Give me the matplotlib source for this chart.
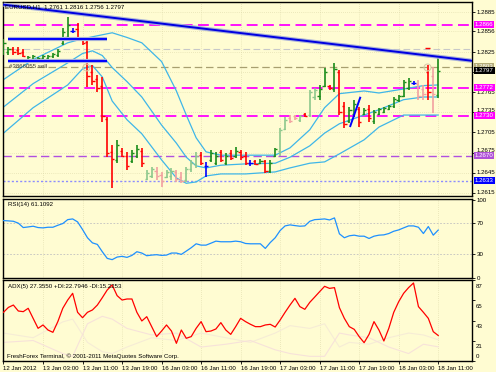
import matplotlib
matplotlib.use("Agg")
import matplotlib.pyplot as plt
import matplotlib.transforms as mtransforms

plt.rcParams['font.family'] = ['Liberation Sans', 'DejaVu Sans']

# ---------------- data ----------------
bar_idx = list(range(89))
opens = [1.2825, 1.2826, 1.2830, 1.2828, 1.2825, 1.2813, 1.2815, 1.2815, 1.2816, 1.2816,
         1.2819, 1.2821, 1.2838, 1.2848, 1.2857, 1.2860, 1.2845, 1.2840, 1.2795, 1.2785,
         1.2775, 1.2725, 1.2676, 1.2664, 1.2678, 1.2670, 1.2662, 1.2670, 1.2678, 1.2636,
         1.2640, 1.2648, 1.2642, 1.2638, 1.2640, 1.2646, 1.2638, 1.2634, 1.2650, 1.2658,
         1.2672, 1.2655, 1.2664, 1.2660, 1.2676, 1.2660, 1.2675, 1.2670, 1.2676, 1.2670,
         1.2660, 1.2662, 1.2659, 1.2662, 1.2648, 1.2670, 1.2678, 1.2710, 1.2726, 1.2729,
         1.2724, 1.2732, 1.2731, 1.2758, 1.2760, 1.2775, 1.2775, 1.2770, 1.2795, 1.2745,
         1.2722, 1.2732, 1.2740, 1.2733, 1.2740, 1.2722, 1.2733, 1.2736, 1.2740, 1.2744,
         1.2753, 1.2760, 1.2772, 1.2779, 1.2778, 1.2770, 1.2796, 1.2790, 1.2761]
highs = [1.2845, 1.2833, 1.2833, 1.2832, 1.2829, 1.2820, 1.2821, 1.2818, 1.2821, 1.2821,
         1.2824, 1.2829, 1.2861, 1.2878, 1.2861, 1.2869, 1.2847, 1.2844, 1.2806, 1.2791,
         1.2788, 1.2728, 1.2686, 1.2694, 1.2682, 1.2676, 1.2679, 1.2686, 1.2682, 1.2649,
         1.2653, 1.2653, 1.2646, 1.2649, 1.2652, 1.2649, 1.2646, 1.2653, 1.2664, 1.2676,
         1.2676, 1.2661, 1.2679, 1.2676, 1.2679, 1.2674, 1.2679, 1.2683, 1.2679, 1.2676,
         1.2664, 1.2664, 1.2665, 1.2664, 1.2664, 1.2682, 1.2712, 1.2728, 1.2731, 1.2731,
         1.2731, 1.2734, 1.2769, 1.2772, 1.2776, 1.2802, 1.2776, 1.2809, 1.2799, 1.2751,
         1.2743, 1.2754, 1.2743, 1.2742, 1.2746, 1.2739, 1.2742, 1.2743, 1.2746, 1.2758,
         1.2761, 1.2784, 1.2787, 1.2782, 1.2784, 1.2776, 1.2806, 1.2803, 1.2816]
lows = [1.2821, 1.2821, 1.2821, 1.2821, 1.2818, 1.2811, 1.2812, 1.2814, 1.2814, 1.2814,
        1.2817, 1.2818, 1.2835, 1.2841, 1.2854, 1.2841, 1.2836, 1.2773, 1.2776, 1.2766,
        1.2721, 1.2668, 1.2622, 1.2659, 1.2668, 1.2649, 1.2659, 1.2667, 1.2653, 1.2634,
        1.2637, 1.2634, 1.2624, 1.2637, 1.2634, 1.2631, 1.2630, 1.2631, 1.2646, 1.2652,
        1.2656, 1.2638, 1.2661, 1.2656, 1.2661, 1.2656, 1.2664, 1.2667, 1.2664, 1.2656,
        1.2655, 1.2656, 1.2658, 1.2644, 1.2644, 1.2668, 1.2670, 1.2709, 1.2719, 1.2724,
        1.2721, 1.2728, 1.2728, 1.2754, 1.2754, 1.2773, 1.2769, 1.2766, 1.2731, 1.2712,
        1.2719, 1.2728, 1.2713, 1.2731, 1.2721, 1.2718, 1.2731, 1.2734, 1.2739, 1.2742,
        1.2751, 1.2758, 1.2769, 1.2776, 1.2754, 1.2754, 1.2754, 1.2734, 1.2756]
closes = [1.2838, 1.2830, 1.2825, 1.2824, 1.2820, 1.2818, 1.2819, 1.2817, 1.2819, 1.2820,
          1.2822, 1.2827, 1.2855, 1.2866, 1.2857, 1.2845, 1.2839, 1.2790, 1.2782, 1.2772,
          1.2730, 1.2675, 1.2666, 1.2686, 1.2670, 1.2655, 1.2674, 1.2680, 1.2660, 1.2645,
          1.2650, 1.2640, 1.2632, 1.2646, 1.2648, 1.2636, 1.2633, 1.2650, 1.2660, 1.2670,
          1.2660, 1.2655, 1.2674, 1.2670, 1.2664, 1.2670, 1.2667, 1.2678, 1.2668, 1.2660,
          1.2660, 1.2658, 1.2663, 1.2648, 1.2660, 1.2680, 1.2708, 1.2724, 1.2722, 1.2726,
          1.2729, 1.2730, 1.2765, 1.2768, 1.2770, 1.2795, 1.2771, 1.2800, 1.2735, 1.2718,
          1.2738, 1.2748, 1.2720, 1.2739, 1.2726, 1.2735, 1.2740, 1.2741, 1.2744, 1.2755,
          1.2759, 1.2780, 1.2782, 1.2779, 1.2760, 1.2762, 1.2765, 1.2762, 1.2797]
bar_style = ['g', 'g', 'r', 'r', 'r', 'g', 'g', 'g', 'g', 'g',
             'g', 'g', 'g', 'g', 'b', 'r', 'r', 'r', 'r', 'r',
             'r', 'r', 'r', 'g', 'r', 'r', 'g', 'g', 'r', 'lg',
             'lg', 'lr', 'lr', 'lg', 'lg', 'lr', 'lr', 'lg', 'lg', 'lg',
             'r', 'b', 'g', 'g', 'r', 'g', 'r', 'g', 'r', 'r',
             'b', 'r', 'g', 'r', 'g', 'g', 'lg', 'lg', 'lr', 'lr',
             'lg', 'r', 'lg', 'lg', 'g', 'g', 'r', 'g', 'r', 'r',
             'g', 'g', 'r', 'g', 'r', 'g', 'g', 'g', 'g', 'g',
             'g', 'g', 'g', 'b', 'lr', 'lr', 'r', 'lr', 'g']

# Bollinger-like bands (read at sample bars)
bb_x = [0, 6, 13, 16, 18, 20, 22, 25, 28, 32, 35, 37, 39, 41, 44, 49, 55, 58, 62, 65, 68, 73, 76, 81, 85, 88]
bb_upper = [1.2784, 1.2814, 1.2839, 1.2845, 1.2848, 1.2851, 1.2854, 1.2847, 1.2839, 1.2811, 1.2767, 1.2731, 1.2697,
            1.2676, 1.2671, 1.2671, 1.2671, 1.2682, 1.2709, 1.2742, 1.2763, 1.2767, 1.2764, 1.2770, 1.2775, 1.2776]
bb_mid = [1.2743, 1.2778, 1.2809, 1.2823, 1.2827, 1.2820, 1.2802, 1.2781, 1.2758, 1.2716, 1.2689, 1.2668, 1.2655,
          1.2652, 1.2656, 1.2658, 1.2659, 1.2668, 1.2685, 1.2704, 1.2718, 1.2731, 1.2739, 1.2754, 1.2758, 1.2758]
bb_lower = [1.2704, 1.2742, 1.2776, 1.2800, 1.2805, 1.2788, 1.2752, 1.2724, 1.2703, 1.2664, 1.2637, 1.2629, 1.2631,
            1.2640, 1.2643, 1.2643, 1.2646, 1.2652, 1.2659, 1.2661, 1.2673, 1.2694, 1.2713, 1.2731, 1.2731, 1.2731]

rsi = [73.2, 72.8, 72.3, 69.9, 64.3, 65.1, 66.0, 64.3, 63.9, 64.7,
       64.7, 67.2, 69.4, 74.4, 75.3, 71.5, 61.8, 51.3, 44.8, 42.8,
       33.5, 25.0, 23.4, 26.7, 27.6, 26.3, 28.8, 33.5, 31.8, 28.4,
       29.2, 29.7, 28.8, 29.2, 31.8, 31.8, 30.1, 34.3, 38.6, 43.6,
       41.9, 41.9, 44.4, 47.0, 46.2, 46.2, 46.2, 47.0, 46.2, 44.0,
       43.6, 43.6, 43.6, 37.7, 45.2, 51.3, 60.5, 66.4, 67.7, 66.8,
       66.0, 66.4, 72.3, 74.4, 74.8, 75.3, 74.0, 76.6, 56.3, 51.3,
       53.8, 54.6, 53.3, 53.3, 50.4, 53.3, 54.6, 55.0, 56.7, 59.6,
       61.3, 63.9, 66.4, 66.4, 64.7, 56.7, 65.6, 54.6, 61.1]

adx = [52.3, 57.6, 60.1, 53.7, 53.0, 56.6, 45.8, 35.1, 38.7, 33.3,
       30.8, 42.3, 56.6, 65.5, 72.7, 52.3, 46.5, 52.3, 54.8, 60.1,
       68.0, 76.3, 81.6, 70.2, 65.5, 66.6, 66.6, 52.3, 43.0, 47.6,
       36.9, 26.2, 32.2, 38.7, 32.2, 19.0, 33.3, 24.4, 26.2, 35.1,
       42.3, 31.5, 32.2, 34.4, 41.2, 33.3, 28.6, 36.9, 45.8, 42.3,
       39.4, 36.9, 36.9, 38.7, 39.4, 36.5, 44.0, 52.3, 60.1, 67.3,
       58.4, 55.5, 63.0, 68.7, 74.5, 80.2, 78.0, 78.8, 57.3, 45.8,
       36.9, 34.0, 26.2, 19.7, 28.6, 42.3, 33.3, 21.5, 35.1, 52.3,
       63.7, 72.7, 78.8, 83.8, 58.4, 52.3, 45.8, 31.5, 27.4]
di_x = [0, 6, 12, 14, 17, 20, 22, 25, 30, 35, 40, 45, 50, 55, 58, 62, 65, 68, 70, 74, 78, 82, 85, 88]
plus_di = [30, 25, 42, 45, 20, 10, 8, 15, 25, 22, 30, 25, 20, 30, 38, 35, 40, 15, 20, 18, 25, 30, 28, 22.8]
minus_di = [20, 22, 8, 5, 40, 48, 45, 35, 28, 30, 15, 18, 22, 12, 8, 5, 5, 30, 28, 25, 15, 8, 18, 15.2]

price_ticks = [1.2885, 1.2856, 1.2825, 1.2795, 1.2765, 1.2735, 1.2705, 1.2675, 1.2645, 1.2615]
price_labels = ['1.2885', '1.2856', '1.2825', '', '1.2765', '1.2735', '1.2705', '1.2675', '1.2645', '1.2615']
date_ticks = [0, 8, 16, 24, 32, 40, 48, 56, 64, 72, 80, 88]
date_labels = ['12 Jan 2012', '13 Jan 03:00', '13 Jan 11:00', '13 Jan 19:00', '16 Jan 03:00', '16 Jan 11:00',
               '16 Jan 19:00', '17 Jan 03:00', '17 Jan 11:00', '17 Jan 19:00', '18 Jan 03:00', '18 Jan 11:00']

level_prices = [1.2866, 1.2830, 1.2803, 1.2772, 1.2730, 1.2670, 1.2633]
level_colors = ['#FF00FF', '#C8C8C8', '#A8A070', '#FF00FF', '#FF00FF', '#B050E0', '#8C8CFF']
level_styles = [(0, (6, 3)), (0, (6, 3)), (0, (6, 3)), (0, (6, 3)), (0, (6, 3)), (0, (6, 3)), (0, (1.5, 1.5))]
level_widths = [1.3, 0.8, 0.9, 1.3, 1.3, 1.0, 1.0]
box_prices = [1.2866, 1.2803, 1.2797, 1.2772, 1.2730, 1.2670, 1.2633]
box_texts = ['1.2866', '1.2803', '1.2797', '1.2772', '1.2730', '1.2670', '1.2633']
box_colors = ['#FF00FF', '#B4AC78', '#000000', '#FF00FF', '#FF00FF', '#B050D8', '#0000FF']

trend_x = [0, 95]
trend_y = [1.2896, 1.2812]
short_trend_x = [70.2, 72.2]
short_trend_y = [1.27145, 1.27569]
order_lines_x = [0.9, 21.05]
order_lines_y = [1.2844, 1.28125]

# ---------------- drawing ----------------
BG = '#FFFCD2'
GRID = '#DAD6A6'
W, H = 496, 372
fig = plt.figure(figsize=(W / 100, H / 100), dpi=100, facecolor=BG)


def rect(l, t, r, b):
    return [l / W, 1 - b / H, (r - l) / W, (b - t) / H]


ax = fig.add_axes(rect(3, 2, 472, 196), facecolor=BG)
ax_r = fig.add_axes(rect(3, 199, 472, 278), facecolor=BG)
ax_a = fig.add_axes(rect(3, 280, 472, 361), facecolor=BG)
XMIN, XMAX = -0.1, 94.84
FS = 4.4

for a in (ax, ax_r, ax_a):
    a.set_xlim(XMIN, XMAX)
    for s in a.spines.values():
        s.set_color('black')
        s.set_linewidth(1.0)
    a.yaxis.tick_right()
    a.tick_params(axis='y', direction='out', length=2, width=0.6, labelsize=FS, pad=1.5, colors='black')
    a.set_xticks(date_ticks)
    a.tick_params(axis='x', length=0, labelbottom=False)
    for xt in date_ticks:
        a.axvline(xt, color=GRID, lw=0.5, ls=(0, (1, 2)), zorder=0)

# main panel
ax.set_ylim(1.2610, 1.2900)
ax.set_yticks(price_ticks)
ax.set_yticklabels([''] * len(price_ticks))
bt = mtransforms.blended_transform_factory(ax.transAxes, ax.transData)
# tick labels drawn as text; two of them sit just above the level boxes that cover them in the original
label_nudge = [0, 0, 0, 0, 0, 0.00035, 0, 0.00035, 0, 0]
for p, lab, nd in zip(price_ticks, price_labels, label_nudge):
    if lab:
        ax.text(1.010, p + nd, lab, transform=bt, fontsize=FS, va='center', ha='left', clip_on=False)
for p in price_ticks:
    ax.axhline(p, color=GRID, lw=0.5, ls=(0, (1, 2)), zorder=0)

for p, c, ls, lw in zip(level_prices, level_colors, level_styles, level_widths):
    ax.axhline(p, color=c, ls=ls, lw=lw, zorder=1)

ax.plot(bb_x, bb_upper, color='#3FB6E8', lw=0.9, zorder=2)
ax.plot(bb_x, bb_mid, color='#3FB6E8', lw=0.9, zorder=2)
ax.plot(bb_x, bb_lower, color='#3FB6E8', lw=0.9, zorder=2)

cmap = {'g': '#1A8C1A', 'lg': '#8CC88C', 'r': '#FF0000', 'lr': '#F2A0A0', 'b': '#0000FF'}
for i, o, h, l, c, s in zip(bar_idx, opens, highs, lows, closes, bar_style):
    col = cmap[s]
    ax.vlines(i, l, h, color=col, lw=1.2, zorder=3)
    ax.hlines(o, i - 0.45, i, color=col, lw=1.0, zorder=3)
    ax.hlines(c, i, i + 0.45, color=col, lw=1.0, zorder=3)

ax.plot(trend_x, trend_y, color='#A8B0D8', lw=3.0, zorder=4, solid_capstyle='butt')
ax.plot(trend_x, trend_y, color='#0000E0', lw=1.4, zorder=4)
ax.plot(short_trend_x, short_trend_y, color='#0000FF', lw=1.4, zorder=4)
for y in order_lines_y:
    ax.hlines(y, order_lines_x[0], order_lines_x[1], color='#A8B0D8', lw=3.0, zorder=4)
    ax.hlines(y, order_lines_x[0], order_lines_x[1], color='#0000FF', lw=1.4, zorder=4)
ax.plot([16.7, 85.8], [1.2803, 1.2803], ls='none', marker='o', ms=5, mfc='none', mec='#D8CCA8', mew=0.8, zorder=5)
ax.hlines(1.2831, 85.3, 86.3, color='#FF0000', lw=1.0, zorder=5)

for p, t, c in zip(box_prices, box_texts, box_colors):
    ax.text(1.006, p, t, transform=bt, fontsize=FS, color='white', va='center', ha='left', zorder=10,
            clip_on=False, bbox=dict(boxstyle='square,pad=0.15', fc=c, ec='none'))

fig.text(5 / W, 1 - 7 / H, 'EURUSD,H1  1.2761 1.2816 1.2756 1.2797', fontsize=FS, va='center', ha='left')
ax.text(6 / 469, 1 - 65 / 194, '#3866055 sell', transform=ax.transAxes, fontsize=FS, color='#3A3A3A',
        va='center', ha='left', zorder=6)

# RSI panel
ax_r.set_ylim(1.0, 100.7)
ax_r.set_yticks([100, 70, 30, 0])
ax_r.set_yticklabels(['100', '70', '30', '0'])
for lv in (70, 30):
    ax_r.axhline(lv, color='#C0C0C0', lw=0.6, ls=(0, (2, 2)), zorder=1)
ax_r.plot(bar_idx, rsi, color='#1E90FF', lw=0.9, zorder=3)
ax_r.text(5 / 469, 0.93, 'RSI(14) 61.1092', transform=ax_r.transAxes, fontsize=FS, va='center', ha='left')

# ADX panel
ax_a.set_ylim(0, 87)
ax_a.set_yticks([87, 65.25, 43.5, 21.75, 0])
ax_a.set_yticklabels(['', '', '', '', ''])
at = mtransforms.blended_transform_factory(ax_a.transAxes, ax_a.transData)
for v, lab in zip([80.5, 58.5, 37.0, 15.5, 4.6], ['87', '65', '43', '21', '0']):
    ax_a.text(1.008, v, lab, transform=at, fontsize=FS, va='center', ha='left', clip_on=False)
ax_a.plot(di_x, plus_di, color='#F6ECD6', lw=0.8, zorder=2)
ax_a.plot(di_x, minus_di, color='#F7E2DA', lw=0.8, zorder=2)
ax_a.plot(bar_idx, adx, color='#FF0000', lw=0.9, zorder=3)
ax_a.text(5 / 469, 0.92, 'ADX(5) 27.3550 +DI:22.7946 -DI:15.2253', transform=ax_a.transAxes, fontsize=FS,
          va='center', ha='left')
ax_a.text(4 / 469, 0.06, 'FreshForex Terminal, \u00a9 2001-2011 MetaQuotes Software Corp.', transform=ax_a.transAxes,
          fontsize=FS, va='center', ha='left')

ax_a.tick_params(axis='x', length=2, width=0.6, direction='out', labelbottom=True, labelsize=FS, pad=1.5)
ax_a.set_xticklabels(date_labels, ha='left')

fig.savefig('out.png', dpi=100, facecolor=BG)
